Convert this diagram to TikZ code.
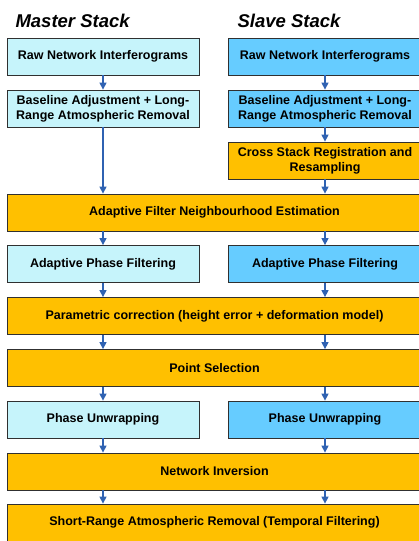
\documentclass[tikz,border=0pt]{standalone}
\usepackage{fontspec}
\setmainfont{Liberation Sans}
\usetikzlibrary{arrows.meta}
\definecolor{MasterBlue}{HTML}{C6F4FB}
\definecolor{SlaveBlue}{HTML}{66CCFF}
\definecolor{Amber}{HTML}{FFC000}
\definecolor{ArrowBlue}{HTML}{2F62B2}
\definecolor{Edge}{HTML}{303030}
\newcommand\stacktitle[1]{\fontsize{18.5}{22}\selectfont\bfseries\itshape #1}

\begin{document}
\begin{tikzpicture}[x=1pt,y=-1pt,
  box/.style={draw=Edge, line width=0.8pt, minimum height=37pt, inner sep=1pt,
    align=center, font=\fontsize{12.5}{15}\selectfont\bfseries},
  master/.style={box, fill=MasterBlue, minimum width=192pt},
  slave/.style={box, fill=SlaveBlue, minimum width=194pt},
  shared/.style={box, fill=Amber, minimum width=194pt},
  wide/.style={box, fill=Amber, minimum width=415pt},
  flow/.style={ArrowBlue, line width=1.3pt, -{Triangle[width=7pt,length=7pt]}}]
\useasboundingbox (0,0) rectangle (419,541);
\node[anchor=base west] (tM) at (12,27) {\stacktitle{Master Stack}};
\node[anchor=base west] (tS) at (234,27) {\stacktitle{Slave Stack}};
\node[master] (rawM) at (103,56.5) {Raw Network Interferograms};
\node[slave] (rawS) at (325,56.5) {Raw Network Interferograms};
\node[master] (baseM) at (103,108.5) {Baseline Adjustment + Long-\\Range Atmospheric Removal};
\node[slave] (baseS) at (325,108.5) {Baseline Adjustment + Long-\\Range Atmospheric Removal};
\node[shared] (crossS) at (325,160.5) {Cross Stack Registration and\\Resampling};
\node[wide] (afne) at (214.5,212.5) {Adaptive Filter Neighbourhood Estimation};
\node[master] (apfM) at (103,264) {Adaptive Phase Filtering};
\node[slave] (apfS) at (325,264) {Adaptive Phase Filtering};
\node[wide] (param) at (214.5,316) {Parametric correction (height error + deformation model)};
\node[wide] (point) at (214.5,368) {Point Selection};
\node[master] (puM) at (103,419.5) {Phase Unwrapping};
\node[slave] (puS) at (325,419.5) {Phase Unwrapping};
\node[wide] (netinv) at (214.5,471.5) {Network Inversion};
\node[wide] (shortr) at (214.5,522.5) {Short-Range Atmospheric Removal (Temporal Filtering)};
\draw[flow] (rawM) -- (baseM);
\draw[flow] (baseM) -- (baseM |- afne.north);
\draw[flow] (rawS) -- (baseS);
\draw[flow] (baseS) -- (crossS);
\draw[flow] (crossS) -- (crossS |- afne.north);
\draw[flow] (afne.south -| apfM) -- (apfM);
\draw[flow] (afne.south -| apfS) -- (apfS);
\draw[flow] (apfM) -- (apfM |- param.north);
\draw[flow] (apfS) -- (apfS |- param.north);
\draw[flow] (param.south -| apfM) -- (apfM |- point.north);
\draw[flow] (param.south -| apfS) -- (apfS |- point.north);
\draw[flow] (point.south -| puM) -- (puM);
\draw[flow] (point.south -| puS) -- (puS);
\draw[flow] (puM) -- (puM |- netinv.north);
\draw[flow] (puS) -- (puS |- netinv.north);
\draw[flow] (netinv.south -| puM) -- (puM |- shortr.north);
\draw[flow] (netinv.south -| puS) -- (puS |- shortr.north);
\end{tikzpicture}
\end{document}
